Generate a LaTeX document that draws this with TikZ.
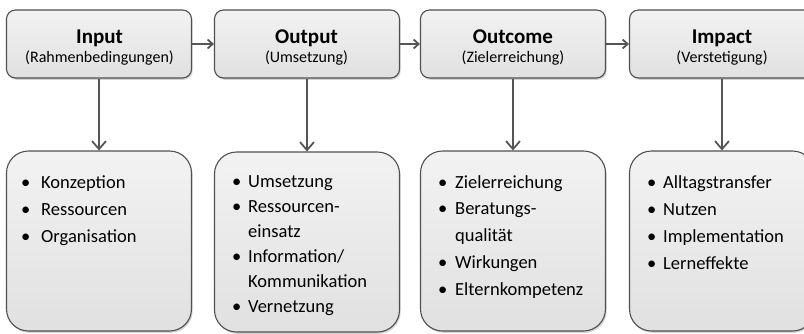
\documentclass[tikz,border=0pt]{standalone}
\usepackage{fontspec}
\setmainfont{Carlito}
\usetikzlibrary{arrows.meta,shadows}
\definecolor{edge}{HTML}{505050}
\definecolor{arr}{HTML}{555555}
\tikzset{
  boxbase/.style={draw=edge, line width=1.1pt, top color=black!5, bottom color=black!12,
    drop shadow={shadow xshift=1.2pt, shadow yshift=-1.8pt, opacity=0.35}},
  topbox/.style={boxbase, rounded corners=9pt, minimum width=185pt, minimum height=68pt, inner sep=0pt},
  botbox/.style={boxbase, rounded corners=22pt, minimum width=185pt, minimum height=180pt, inner sep=0pt},
  ttl/.style={anchor=base, inner sep=0pt, font=\bfseries\fontsize{21}{24}\selectfont},
  sub/.style={anchor=base, inner sep=0pt, font=\fontsize{16}{19}\selectfont},
  lst/.style={anchor=base west, inner sep=0pt, align=left},
  harrow/.style={draw=arr, line width=1.8pt, -{Straight Barb[length=5pt,width=9pt,line width=1.8pt]}},
  varrow/.style={draw=arr, line width=1.8pt, -{Straight Barb[length=8pt,width=14pt,line width=1.8pt]}},
}
\newcommand{\bitem}{\textbullet}
\begin{document}
\begin{tikzpicture}[x=1pt,y=-1pt]
\useasboundingbox (0,0) rectangle (804,333);
\clip (0,0) rectangle (804,333);
% top boxes
\node[topbox] (t1) at (99,44) {};
\node[topbox] (t2) at (307,44) {};
\node[topbox] (t3) at (513,44) {};
\node[topbox] (t4) at (722,44) {};
\node[ttl] (t1a) at (99.5,43) {Input};
\node[sub] (t1b) at (99.5,62) {(Rahmenbedingungen)};
\node[ttl] (t2a) at (306.5,43) {Output};
\node[sub] (t2b) at (306.5,62) {(Umsetzung)};
\node[ttl] (t3a) at (513,43) {Outcome};
\node[sub] (t3b) at (513,62) {(Zielerreichung)};
\node[ttl] (t4a) at (722,43) {Impact};
\node[sub] (t4b) at (722,62) {(Verstetigung)};
% bottom boxes
\node[botbox] (b1) at (99,241) {};
\node[botbox] (b2) at (307,242) {};
\node[botbox] (b3) at (513,241) {};
\node[botbox] (b4) at (722,241) {};
% lists
\node[lst] (l1) at (21,188) {\fontsize{18.5}{27}\selectfont
  \begin{tabular}[t]{@{}p{20pt}@{}l@{}}
  \bitem & Konzeption\\ \bitem & Ressourcen\\ \bitem & Organisation
  \end{tabular}};
\node[lst] (l2) at (232,187) {\fontsize{18.5}{25}\selectfont
  \begin{tabular}[t]{@{}p{16pt}@{}l@{}}
  \bitem & Umsetzung\\ \bitem & Ressourcen-\\ & einsatz\\ \bitem & Information/\\ & Kommunikation\\ \bitem & Vernetzung
  \end{tabular}};
\node[lst] (l3) at (438,188) {\fontsize{18.5}{26.8}\selectfont
  \begin{tabular}[t]{@{}p{17pt}@{}l@{}}
  \bitem & Zielerreichung\\ \bitem & Beratungs-\\ & qualität\\ \bitem & Wirkungen\\ \bitem & Elternkompetenz
  \end{tabular}};
\node[lst] (l4) at (647,188) {\fontsize{18.5}{27}\selectfont
  \begin{tabular}[t]{@{}p{16pt}@{}l@{}}
  \bitem & Alltagstransfer\\ \bitem & Nutzen\\ \bitem & Implementation\\ \bitem & Lerneffekte
  \end{tabular}};
% connectors
\draw[harrow] (t1.east) -- (t2.west);
\draw[harrow] (t2.east) -- (t3.west);
\draw[harrow] (t3.east) -- (t4.west);
\draw[varrow] (t1.south) -- (b1.north);
\draw[varrow] (t2.south) -- (b2.north);
\draw[varrow] (t3.south) -- (b3.north);
\draw[varrow] (t4.south) -- (b4.north);
\end{tikzpicture}
\end{document}
